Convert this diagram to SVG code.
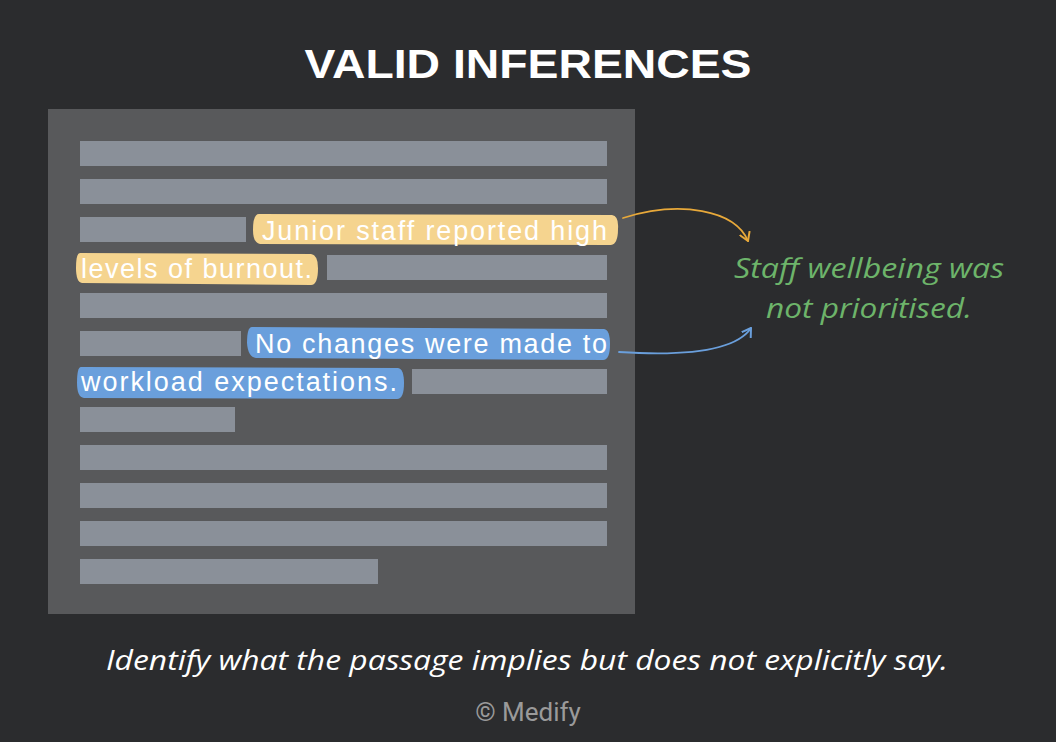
<svg xmlns="http://www.w3.org/2000/svg" width="1056" height="742" viewBox="0 0 1056 742">
<defs>
<style>
.bar{fill:#8a9099}
.hl{font-family:"Liberation Sans",Arial,sans-serif;font-size:27px;fill:#ffffff}
.hand{font-family:"Open Sans","DejaVu Sans",sans-serif;font-style:italic}
</style>
<marker id="ao" viewBox="0 0 12 12" refX="9" refY="6" markerWidth="12" markerHeight="12" markerUnits="userSpaceOnUse" orient="auto"><path d="M1,1 L9,6 L1,11" fill="none" stroke="#e8a93a" stroke-width="2" stroke-linecap="round" stroke-linejoin="round"/></marker>
<marker id="ab" viewBox="0 0 12 12" refX="9" refY="6" markerWidth="12" markerHeight="12" markerUnits="userSpaceOnUse" orient="auto"><path d="M1,1 L9,6 L1,11" fill="none" stroke="#6a9fdc" stroke-width="2" stroke-linecap="round" stroke-linejoin="round"/></marker>
</defs>
<rect x="0" y="0" width="1056" height="742" fill="#2b2c2e"/>
<text x="528" y="78" text-anchor="middle" font-family="Liberation Sans,Arial,sans-serif" font-weight="bold" font-size="41" fill="#ffffff" textLength="447" lengthAdjust="spacingAndGlyphs">VALID INFERENCES</text>
<g id="passage">
<rect x="48" y="109" width="587" height="505" fill="#58595b"/>
<rect class="bar" x="80" y="141" width="527" height="25"/>
<rect class="bar" x="80" y="179" width="527" height="25"/>
<rect class="bar" x="80" y="217" width="166" height="25"/>
<rect class="bar" x="327" y="255" width="280" height="25"/>
<rect class="bar" x="80" y="293" width="527" height="25"/>
<rect class="bar" x="80" y="331" width="161" height="25"/>
<rect class="bar" x="412" y="369" width="195" height="25"/>
<rect class="bar" x="80" y="407" width="155" height="25"/>
<rect class="bar" x="80" y="445" width="527" height="25"/>
<rect class="bar" x="80" y="483" width="527" height="25"/>
<rect class="bar" x="80" y="521" width="527" height="25"/>
<rect class="bar" x="80" y="559" width="298" height="25"/>
</g>
<g id="premise1">
<path d="M259,214 L612,215 Q619,216 618,229 Q618,244 611,245 L260,244 Q253,243 253,230 Q253,214 259,214 Z" fill="#f5d48f"/>
<path d="M80,253 L311,254 Q318,255 318,268 Q318,285 311,285 L82,283 Q76,282 76,268 Q76,253 80,253 Z" fill="#f5d48f"/>
<text class="hl" x="262" y="240" textLength="345" lengthAdjust="spacing">Junior staff reported high</text>
<text class="hl" x="81" y="278" textLength="231" lengthAdjust="spacing">levels of burnout.</text>
</g>
<g id="premise2">
<path d="M252,327 L604,329 Q610,330 610,344 Q610,360 603,360 L256,358 Q248,357 247,343 Q247,327 252,327 Z" fill="#6a9fdc"/>
<path d="M81,367 L398,368 Q404,369 404,383 Q404,399 397,399 L84,398 Q77,397 77,383 Q77,367 81,367 Z" fill="#6a9fdc"/>
<text class="hl" x="255" y="353" textLength="352" lengthAdjust="spacing">No changes were made to</text>
<text class="hl" x="81" y="391" textLength="316" lengthAdjust="spacing">workload expectations.</text>
</g>
<g id="connectors" fill="none" stroke-width="1.8" stroke-linecap="round">
<path d="M623,218 C680,200 735,210 748,241" stroke="#e8a93a" marker-end="url(#ao)"/>
<path d="M619,352 C680,356 735,352 751,328" stroke="#6a9fdc" marker-end="url(#ab)"/>
</g>
<g id="inference">
<text class="hand" x="734" y="278" font-size="28" fill="#6db46a" textLength="270" lengthAdjust="spacingAndGlyphs">Staff wellbeing was</text>
<text class="hand" x="766" y="318" font-size="28" fill="#6db46a" textLength="206" lengthAdjust="spacingAndGlyphs">not prioritised.</text>
</g>
<text class="hand" x="106" y="670" font-size="28" fill="#ffffff" textLength="842" lengthAdjust="spacingAndGlyphs">Identify what the passage implies but does not explicitly say.</text>
<text x="528" y="721" text-anchor="middle" font-family="Roboto,Liberation Sans,sans-serif" font-size="26" fill="#9a9a9a">© Medify</text>
</svg>
